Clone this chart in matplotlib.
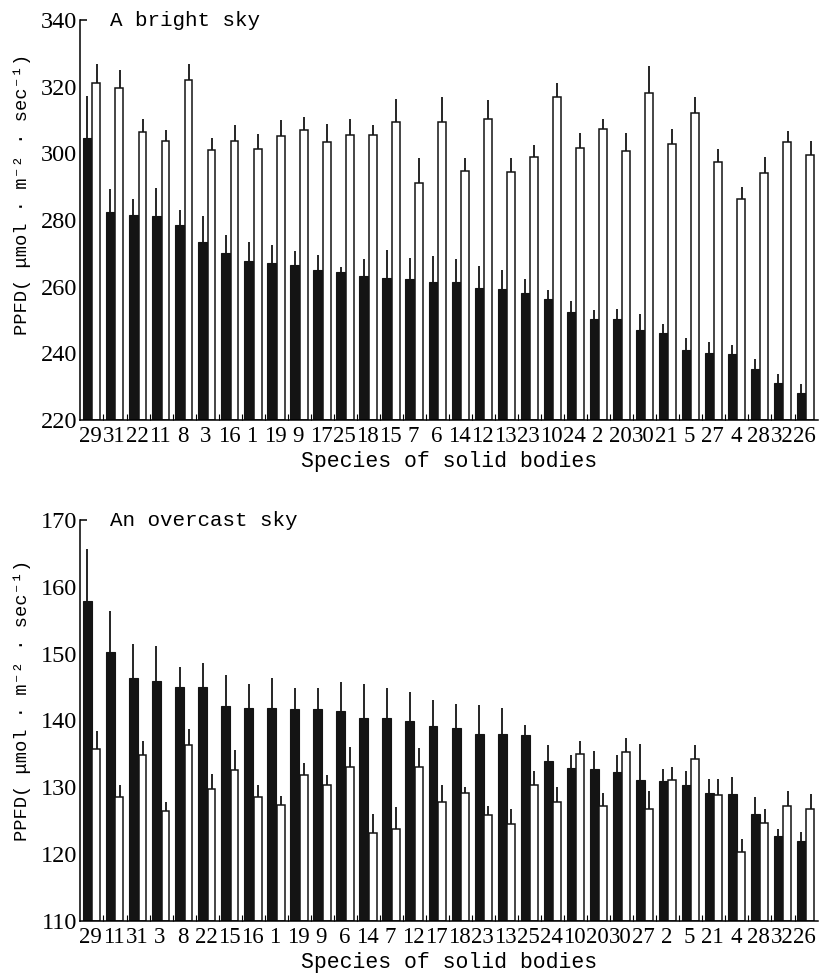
import numpy as np
import matplotlib
matplotlib.use("Agg")
import matplotlib.pyplot as plt
from matplotlib.ticker import FixedLocator

# ---- bright sky ----
bright_labels = ['29', '31', '22', '11', '8', '3', '16', '1', '19', '9', '17', '25', '18', '15', '7', '6',
                 '14', '12', '13', '23', '10', '24', '2', '20', '30', '21', '5', '27', '4', '28', '32', '26']
bright_black = [304.5, 282.4, 281.4, 281.2, 278.4, 273.5, 270.2, 267.7, 267.2, 266.4, 265.0, 264.3, 263.3, 262.7, 262.3, 261.4,
                261.5, 259.7, 259.4, 258.0, 256.4, 252.4, 250.2, 250.2, 246.9, 246.2, 241.0, 240.0, 239.9, 235.2, 231.0, 228.0]
bright_black_err = [317.2, 289.4, 286.4, 289.7, 283.0, 281.2, 275.4, 273.4, 272.4, 270.7, 269.5, 265.8, 268.3, 271.0, 268.7, 269.2,
                    268.4, 266.2, 265.0, 262.4, 259.0, 255.7, 253.0, 253.4, 251.7, 248.9, 244.7, 243.4, 242.5, 238.2, 233.7, 230.9]
bright_white = [321.2, 319.5, 306.4, 303.7, 322.0, 301.0, 303.7, 301.4, 305.2, 306.9, 303.4, 305.5, 305.5, 309.4, 291.0, 309.5,
                294.7, 310.2, 294.5, 298.9, 317.0, 301.7, 307.4, 300.7, 318.0, 302.9, 312.2, 297.5, 286.4, 294.2, 303.4, 299.5]
bright_white_err = [326.7, 325.0, 310.4, 307.0, 326.7, 304.7, 308.4, 305.7, 310.0, 311.0, 308.9, 310.2, 308.4, 316.4, 298.7, 317.0,
                    298.7, 316.0, 298.7, 302.4, 321.0, 306.0, 310.4, 306.0, 326.2, 307.2, 317.0, 301.4, 290.0, 298.9, 306.7, 303.7]

# ---- overcast sky ----
over_labels = ['29', '11', '31', '3', '8', '22', '15', '16', '1', '19', '9', '6', '14', '7', '12', '17',
               '18', '23', '13', '25', '24', '10', '20', '30', '27', '2', '5', '21', '4', '28', '32', '26']
over_black = [157.9, 150.2, 146.3, 145.9, 145.0, 145.0, 142.1, 141.9, 141.9, 141.7, 141.7, 141.4, 140.3, 140.3, 139.9, 139.2,
              138.9, 138.0, 138.0, 137.8, 134.0, 132.9, 132.8, 132.3, 131.1, 130.9, 130.3, 129.2, 129.0, 126.0, 122.7, 121.9]
over_black_err = [165.7, 156.4, 151.4, 151.2, 148.0, 148.6, 146.8, 145.5, 146.3, 144.9, 144.9, 145.8, 145.4, 144.8, 144.3, 143.1,
                  142.5, 142.3, 141.9, 139.4, 136.3, 134.9, 135.4, 134.8, 136.5, 132.7, 132.4, 131.3, 131.6, 128.5, 123.7, 123.3]
over_white = [135.8, 128.6, 134.8, 126.5, 136.4, 129.8, 132.6, 128.5, 127.3, 131.9, 130.4, 133.1, 123.1, 123.7, 133.0, 127.8,
              129.1, 125.8, 124.5, 130.3, 127.8, 135.0, 127.2, 135.3, 126.8, 131.1, 134.2, 128.9, 120.3, 124.7, 127.2, 126.7]
over_white_err = [138.4, 130.4, 136.9, 127.8, 138.8, 132.0, 135.6, 130.3, 128.7, 133.6, 131.8, 136.1, 126.0, 127.0, 135.9, 130.4,
                  130.1, 127.2, 126.8, 132.4, 130.0, 137.0, 129.1, 137.4, 129.5, 133.0, 136.3, 131.2, 122.3, 126.8, 129.5, 129.0]

W, H = 823, 974
mono = ['Liberation Mono', 'DejaVu Sans Mono']
serif = ['Liberation Serif', 'DejaVu Serif']
ylab = 'PPFD( μmol · m⁻² · sec⁻¹)'


def panel(ax, labels, black, black_err, white, white_err, ymin, ymax, step, title):
    x = np.arange(len(labels))
    base = ymin
    bk = np.array(black)
    wh = np.array(white)
    ax.bar(x - 0.195, bk - base, width=0.39, bottom=base, color='#141414', edgecolor='#141414', linewidth=0.8)
    ax.bar(x + 0.19, wh - base, width=0.34, bottom=base, color='white', edgecolor='#141414', linewidth=1.1)
    ax.vlines(x - 0.2, bk, black_err, color='#141414', linewidth=1.3)
    ax.vlines(x + 0.2, wh, white_err, color='#141414', linewidth=1.3)

    ax.set_xlim(-0.52, len(labels) - 0.48)
    ax.set_ylim(ymin, ymax)
    ax.spines['top'].set_visible(False)
    ax.spines['right'].set_visible(False)
    ax.spines['left'].set_linewidth(1.1)
    ax.spines['bottom'].set_linewidth(1.1)

    ax.set_xticks(x - 0.05)
    ax.set_xticklabels(labels, family=serif, fontsize=16.5)
    ax.tick_params(axis='x', which='major', length=0, pad=4)
    ax.xaxis.set_minor_locator(FixedLocator(x[:-1] + 0.5))
    ax.tick_params(axis='x', which='minor', direction='in', length=4, width=0.8)

    ax.set_yticks(np.arange(ymin, ymax + 1, step))
    ax.set_yticklabels([str(v) for v in np.arange(ymin, ymax + 1, step)], family=serif, fontsize=17.5)
    ax.tick_params(axis='y', which='major', length=0, pad=2)
    ax.yaxis.remove_overlapping_locs = False
    ax.yaxis.set_minor_locator(FixedLocator([ymax]))
    ax.tick_params(axis='y', which='minor', direction='in', length=5, width=1.1)

    ax.set_xlabel('Species of solid bodies', family=mono, fontsize=15.5, labelpad=3)
    ax.text(0.04, 1.0, title, transform=ax.transAxes, family=mono, fontsize=15,
            ha='left', va='center')


fig = plt.figure(figsize=(W / 100, H / 100), dpi=100)
ax1 = fig.add_axes([80 / W, 1 - 420 / H, 738 / W, 400 / H])
ax2 = fig.add_axes([80 / W, 1 - 921 / H, 738 / W, 401 / H])

panel(ax1, bright_labels, bright_black, bright_black_err, bright_white, bright_white_err, 220, 340, 20, 'A bright sky')
panel(ax2, over_labels, over_black, over_black_err, over_white, over_white_err, 110, 170, 10, 'An overcast sky')

fig.text(22 / W, 1 - 194 / H, ylab, rotation=90, ha='center', va='center', family=mono, fontsize=13.5)
fig.text(22 / W, 1 - 700 / H, ylab, rotation=90, ha='center', va='center', family=mono, fontsize=13.5)

fig.savefig('out.png', dpi=100)
